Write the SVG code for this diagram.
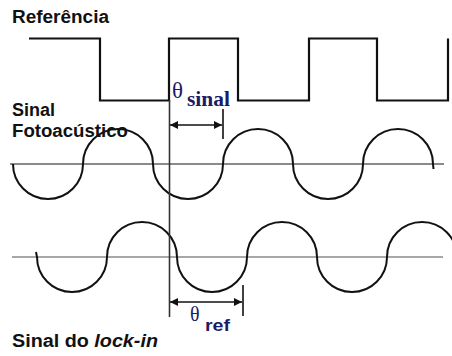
<svg xmlns="http://www.w3.org/2000/svg" width="452" height="356" viewBox="0 0 452 356">
<style>
.lbl{font-family:"Liberation Sans",Arial,sans-serif;font-weight:bold;font-size:18px;fill:#111}
.th{font-family:"Liberation Serif","Times New Roman",serif;fill:#1c1c66}
.wave{fill:none;stroke:#111;stroke-width:2}
.sq{fill:none;stroke:#111;stroke-width:2.2}
.axis{stroke:#8a8a8a;fill:none}
.dim{stroke:#111;stroke-width:1.6;fill:none}
</style>
<defs>
<marker id="ah" viewBox="0 0 10 10" refX="10" refY="5" markerWidth="8" markerHeight="8" markerUnits="userSpaceOnUse" orient="auto-start-reverse">
<path d="M0 0L10 5L0 10z" fill="#111"/>
</marker>
</defs>
<g id="labels">
<text class="lbl" x="12" y="23" textLength="97" lengthAdjust="spacingAndGlyphs">Referência</text>
<text class="lbl" x="12" y="116" textLength="43" lengthAdjust="spacingAndGlyphs">Sinal</text>
<text class="lbl" x="12" y="137" textLength="116" lengthAdjust="spacingAndGlyphs">Fotoacústico</text>
<text class="lbl" x="12" y="347" textLength="146" lengthAdjust="spacingAndGlyphs">Sinal do <tspan font-style="italic">lock-in</tspan></text>
</g>
<g id="reference">
<path class="sq" d="M29 38.5H100V100.5H169V38.5H238V100.5H309V38.5H377V100.5H448V38.5"/>
</g>
<g id="axes">
<line class="axis" x1="10" y1="164" x2="444" y2="164" stroke-width="2"/>
<line class="axis" x1="12" y1="257" x2="443" y2="257" stroke-width="1.3" stroke="#9a9a9a"/>
</g>
<g id="photoacoustic">
<path class="wave" d="M13 164A35 35 0 0 0 83 164A35 35 0 0 1 153 164A35 35 0 0 0 223 164A35 35 0 0 1 293 164A35 35 0 0 0 363 164A35 35 0 0 1 433 164l0.5 5"/>
</g>
<g id="lockin">
<path class="wave" d="M36 252l1 5A35 35 0 0 0 107 257A35 35 0 0 1 177 257A35 35 0 0 0 247 257A35 35 0 0 1 317 257A35 35 0 0 0 387 257A35 35 0 0 1 457 257"/>
</g>
<g id="connectors">
<line x1="169.5" y1="100" x2="169.5" y2="317" stroke="#333" stroke-width="1.6"/>
<line class="dim" x1="223" y1="109" x2="223" y2="139"/>
<line class="dim" x1="170" y1="125" x2="222" y2="125" marker-start="url(#ah)" marker-end="url(#ah)"/>
<line class="dim" x1="243" y1="285" x2="243" y2="316"/>
<line class="dim" x1="170" y1="302" x2="242" y2="302" marker-start="url(#ah)" marker-end="url(#ah)"/>
</g>
<g id="theta-sinal">
<text class="th" x="172" y="98" font-size="23">θ</text>
<text class="th" x="187" y="106" font-size="20" font-weight="bold" textLength="43" lengthAdjust="spacingAndGlyphs">sinal</text>
</g>
<g id="theta-ref">
<text class="th" x="190" y="321" font-size="20">θ</text>
<text x="205" y="331" font-family="Liberation Sans,Arial,sans-serif" font-size="17" font-weight="bold" fill="#1c1c66" textLength="25" lengthAdjust="spacingAndGlyphs">ref</text>
</g>
</svg>
